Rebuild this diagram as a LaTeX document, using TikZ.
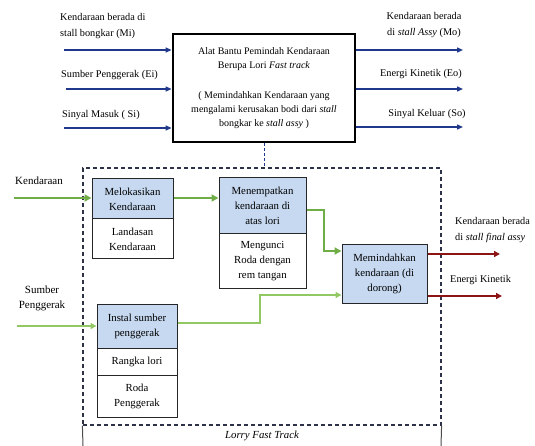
\documentclass[tikz,border=0pt]{standalone}
\usepackage{fontspec}
\setmainfont{Liberation Serif}
\usetikzlibrary{arrows.meta}
\definecolor{navy}{RGB}{31,56,140}
\definecolor{grn}{RGB}{112,173,71}
\definecolor{lgrn}{RGB}{146,200,100}
\definecolor{dred}{RGB}{140,20,20}
\definecolor{lblue}{RGB}{198,217,241}
\definecolor{dgray}{RGB}{45,50,70}
\newcommand{\blkfont}{\fontsize{10.8}{15}\selectfont}
\newcommand{\labfont}{\fontsize{10.3}{16}\selectfont}
\begin{document}
\begin{tikzpicture}[x=1pt,y=-1pt,
  lab/.style={font=\labfont, inner sep=0pt},
  blkhead/.style={draw=black!85, line width=1pt, fill=lblue, align=center, inner sep=0pt, font=\blkfont},
  blkbody/.style={draw=black!85, line width=1pt, fill=white, align=center, inner sep=0pt, font=\blkfont},
  navyarrow/.style={draw=navy, line width=1.4pt, -{Triangle[length=6pt,width=5pt]}},
  grnthick/.style={draw=grn, line width=2.4pt, -{Triangle[length=7pt,width=7pt]}},
  grnthin/.style={draw=lgrn, line width=1.3pt, -{Triangle[length=6pt,width=6pt]}},
  redarrow/.style={draw=dred, line width=1.4pt, -{Triangle[length=6pt,width=6pt]}},
  dashbox/.style={draw=dgray, line width=1.2pt, dash pattern=on 4pt off 3pt}
]
\useasboundingbox (0,0) rectangle (535,446);

% ---------- top IO box ----------
\node[draw=black, line width=2.8pt, minimum width=182pt, minimum height=108pt, inner sep=0pt,
      align=center, font=\fontsize{10}{14}\selectfont] (top) at (264,88)
  {Alat Bantu Pemindah Kendaraan\\ Berupa Lori \textit{Fast track}\\[16pt]
   ( Memindahkan Kendaraan yang\\ mengalami kerusakan bodi dari \textit{stall}\\
   bongkar ke \textit{stall assy} )};

% input labels
\node[lab, anchor=west, align=left] (lmi) at (60,26) {Kendaraan berada di\\stall bongkar (Mi)};
\node[lab, anchor=west] (lei) at (61,75) {Sumber Penggerak (Ei)};
\node[lab, anchor=west] (lsi) at (62,115) {Sinyal Masuk ( Si)};
% input arrows
\coordinate (i1) at (64,50);
\coordinate (i2) at (66,89);
\coordinate (i3) at (64,128);
\draw[navyarrow] (i1) -- (i1 -| top.west);
\draw[navyarrow] (i2) -- (i2 -| top.west);
\draw[navyarrow] (i3) -- (i3 -| top.west);

% output labels
\node[lab, align=center] (lmo) at (424,25) {Kendaraan berada\\di \textit{stall Assy} (Mo)};
\node[lab] (leo) at (421,74) {Energi Kinetik (Eo)};
\node[lab] (lso) at (427,114) {Sinyal Keluar (So)};
% output arrows
\coordinate (o1) at (463,50);
\coordinate (o2) at (463,89);
\coordinate (o3) at (463,127);
\draw[navyarrow] (o1 -| top.east) -- (o1);
\draw[navyarrow] (o2 -| top.east) -- (o2);
\draw[navyarrow] (o3 -| top.east) -- (o3);

% ---------- lorry fast track box ----------
\node[dashbox, minimum width=358pt, minimum height=257pt, inner sep=0pt] (lorry) at (262,296.5) {};
\draw[draw=navy, line width=1pt, dash pattern=on 3pt off 2pt] (top.south) -- (top.south |- lorry.north);
\coordinate (bl) at (83,446);
\coordinate (br) at (441,446);
\draw[draw=black!70, line width=1pt] (lorry.south west) -- (bl);
\draw[draw=black!70, line width=1pt] (lorry.south east) -- (br);
\node[font=\fontsize{10.8}{12}\selectfont\itshape, inner sep=0pt] (ltrack) at (262,436) {Lorry Fast Track};

% ---------- blocks ----------
\node[blkhead, minimum width=81pt, minimum height=40pt] (b1a) at (132.5,199) {Melokasikan\\Kendaraan};
\node[blkbody, minimum width=81pt, minimum height=40pt] (b1b) at (132.5,239) {Landasan\\Kendaraan};

\node[blkhead, minimum width=87pt, minimum height=56pt] (b2a) at (262.5,206) {Menempatkan\\kendaraan di\\atas lori};
\node[blkbody, minimum width=87pt, minimum height=54pt] (b2b) at (262.5,261) {Mengunci\\Roda dengan\\rem tangan};

\node[blkhead, minimum width=85pt, minimum height=58pt] (b3) at (384.5,274) {Memindahkan\\kendaraan (di\\dorong)};

\node[blkhead, minimum width=80pt, minimum height=44pt] (b4a) at (137,326) {Instal sumber\\penggerak};
\node[blkbody, minimum width=80pt, minimum height=27pt] (b4b) at (137,361.5) {Rangka lori};
\node[blkbody, minimum width=80pt, minimum height=42pt] (b4c) at (137,396) {Roda\\Penggerak};

% ---------- left labels and green flows ----------
\node[inner sep=0pt, font=\fontsize{11}{12}\selectfont] (lkend) at (39,181) {Kendaraan};
\node[inner sep=0pt, align=center, font=\fontsize{11}{15}\selectfont] (lsumb) at (42,298) {Sumber\\Penggerak};

\coordinate (k0) at (14,198);
\draw[grnthick] (k0) -- (k0 -| b1a.west);
\draw[grnthick] (b1a.east |- k0) -- (k0 -| b2a.west);
\draw[grnthick] (b2a.east |- 0,210) -- (324,210) -- (324,251) -- (b3.west |- 0,251);

\coordinate (s0) at (17,326);
\draw[grnthin] (s0) -- (s0 -| b4a.west);
\draw[grnthin] (b4a.east |- 0,323) -- (260,323) -- (260,295) -- (b3.west |- 0,295);

% ---------- outputs of b3 ----------
\coordinate (r1) at (500,254);
\coordinate (r2) at (502,296);
\draw[redarrow] (b3.east |- r1) -- (r1);
\draw[redarrow] (b3.east |- r2) -- (r2);
\node[lab, anchor=west, align=left] (lfin) at (455,230.5) {Kendaraan berada\\di \textit{stall final assy}};
\node[lab, anchor=west] (lek) at (450,280) {Energi Kinetik};
\end{tikzpicture}
\end{document}
